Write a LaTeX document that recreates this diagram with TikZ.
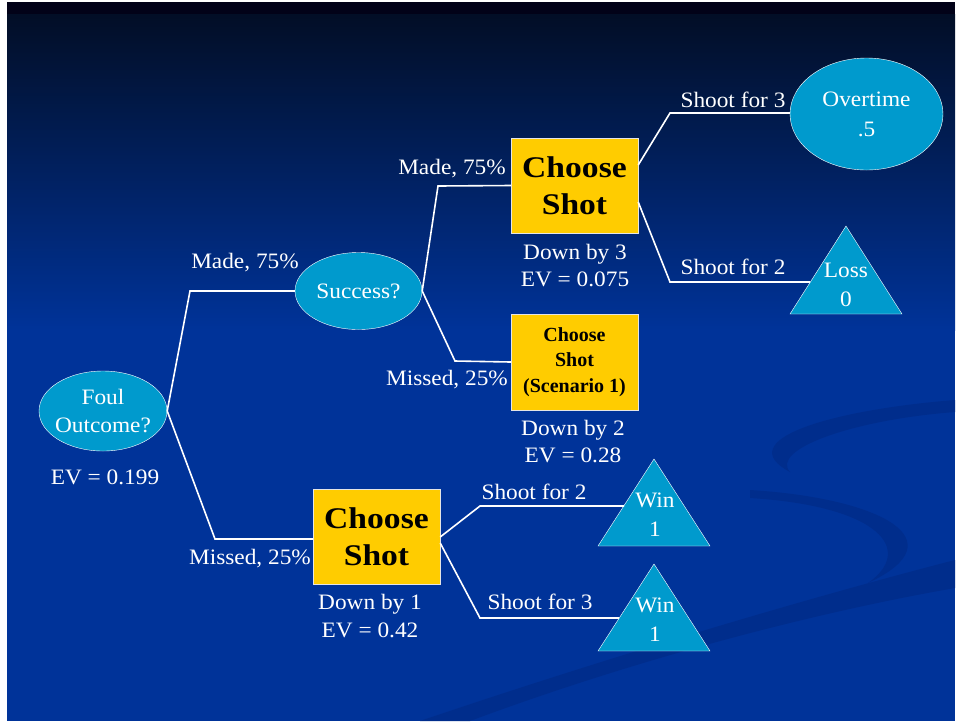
\documentclass[tikz,border=0pt]{standalone}
\usepackage{fontspec}
\setmainfont{Liberation Serif}[FakeStretch=1.06]
\newfontfamily\boxfont{Liberation Serif}[FakeStretch=1.12]
\newfontfamily\smallboxfont{Liberation Serif}
\usetikzlibrary{shapes.geometric, positioning, calc}

\definecolor{bgblue}{RGB}{0,51,153}
\definecolor{bgtop}{RGB}{2,2,24}
\definecolor{bgdark}{RGB}{2,14,38}
\definecolor{swoosh}{RGB}{0,45,140}
\definecolor{chancefill}{RGB}{0,154,205}
\definecolor{decisionfill}{RGB}{255,204,0}

\begin{document}
\begin{tikzpicture}[x=1pt, y=-1pt,
  chance/.style={ellipse, draw=white, thin, fill=chancefill, text=white,
    font=\fontsize{22}{28}\selectfont, align=center, inner sep=0pt},
  decision/.style={rectangle, draw=white!80!gray, thin, fill=decisionfill,
    font=\boxfont\bfseries\fontsize{30}{37}\selectfont, align=center,
    minimum width=127, minimum height=95, inner sep=0pt},
  terminal/.style={draw=white, thin, fill=chancefill},
  lbl/.style={text=white, font=\fontsize{22}{28}\selectfont, align=center, inner sep=0pt},
  conn/.style={draw=white, line width=1.6pt}]
\useasboundingbox (0,0) rectangle (957,721);

% Background
\fill[white] (0,0) rectangle (957,721);
\fill[bgtop] (7,2) rectangle (955,14);
\shade[top color=bgdark, bottom color=bgblue] (7,14) rectangle (955,330);
\fill[bgblue] (7,330) rectangle (955,721);
\fill[swoosh] (955,400) .. controls (830,410) and (730,440) .. (790,472)
  .. controls (770,450) and (850,420) .. (955,412) -- cycle;
\fill[swoosh] (750,490) .. controls (880,498) and (960,540) .. (868,583)
  .. controls (915,550) and (880,506) .. (750,498) -- cycle;
\fill[swoosh] (420,721) .. controls (600,660) and (800,600) .. (955,560)
  -- (955,588) .. controls (800,615) and (620,665) .. (470,721) -- cycle;

% Chance nodes
\node[chance, minimum width=128, minimum height=80, inner xsep=-4pt] (foul) at (103,411) {Foul\\Outcome?};
\node[chance, minimum width=127, minimum height=77] (success) at (358.5,291) {Success?};
\node[chance, minimum width=153, minimum height=112, font=\fontsize{22}{30}\selectfont]
  (overtime) at (866.5,114) {Overtime\\.5};

% Decision nodes
\node[decision] (cs1) at (376.5,536.5) {Choose\\Shot};
\node[decision] (cs2) at (574.5,185.5) {Choose\\Shot};
\node[decision, minimum height=96, font=\smallboxfont\bfseries\fontsize{20}{25.5}\selectfont]
  (cs3) at (574.5,362) {Choose\\Shot\\(Scenario 1)};

% Terminal triangles
\draw[terminal] (846,226) -- (902,314) -- (790,314) -- cycle;
\node[lbl, font=\fontsize{22}{29}\selectfont] (loss) at (846,284.5) {Loss\\0};
\coordinate (lossin) at (810,282);
\draw[terminal] (654,459) -- (710,546) -- (598,546) -- cycle;
\node[lbl, font=\fontsize{22}{29}\selectfont] (win1) at (655,515) {Win\\1};
\coordinate (win1in) at (624,506);
\draw[terminal] (654,564) -- (710,651) -- (598,651) -- cycle;
\node[lbl, font=\fontsize{22}{29}\selectfont] (win2) at (655,619.5) {Win\\1};
\coordinate (win2in) at (619,618);

% Branches
\draw[conn] (foul.east) -- (190,291) -- (success.west);
\draw[conn] (foul.east) -- (215,539) -- (cs1.west |- 0,539);
\draw[conn] (success.east) -- (438,186) -- (cs2.west);
\draw[conn] (success.east) -- (455,361) -- (cs3.west);
\draw[conn] ($(cs2.east)+(0,-20.5)$) -- (670,113) -- (overtime.west |- 0,113);
\draw[conn] ($(cs2.east)+(0,16.5)$) -- (670,282) -- (lossin);
\draw[conn] ($(cs1.east)+(0,0.5)$) -- (480,506) -- (win1in);
\draw[conn] ($(cs1.east)+(0,6.5)$) -- (480,618) -- (win2in);

% Branch labels
\node[lbl] (madea) at (245,263) {Made, 75\%};
\node[lbl] (misseda) at (250,559) {Missed, 25\%};
\node[lbl] (madeb) at (452,169) {Made, 75\%};
\node[lbl] (missedb) at (447,380) {Missed, 25\%};
\node[lbl] (shoota) at (733,100) {Shoot for 3};
\node[lbl] (shootb) at (733,267) {Shoot for 2};
\node[lbl] (shootc) at (534,492) {Shoot for 2};
\node[lbl] (shootd) at (540,602) {Shoot for 3};

% Values
\node[lbl] (evfoul) at (105,477) {EV = 0.199};
\node[lbl, font=\fontsize{22}{27}\selectfont] (ev3) at (575,266) {Down by 3\\EV = 0.075};
\node[lbl, font=\fontsize{22}{27}\selectfont] (ev2) at (573,442) {Down by 2\\EV = 0.28};
\node[lbl, font=\fontsize{22}{28}\selectfont] (ev1) at (370,616) {Down by 1\\EV = 0.42};
\end{tikzpicture}
\end{document}
